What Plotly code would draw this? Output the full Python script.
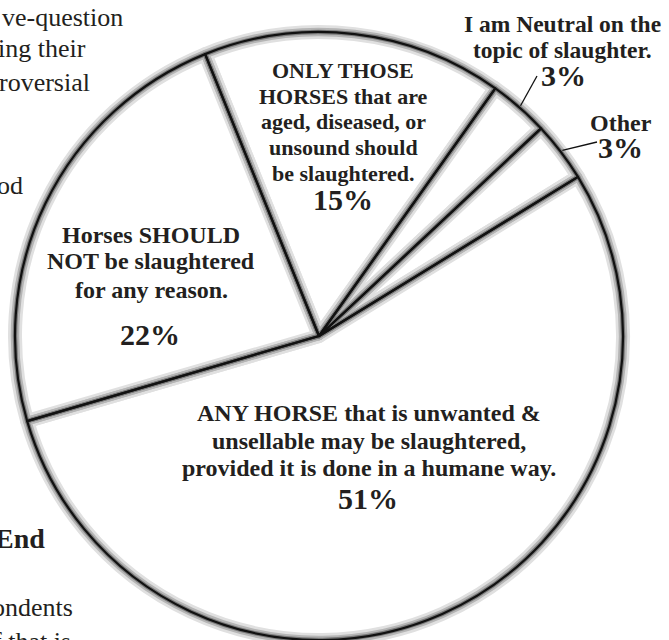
import math
import plotly.graph_objects as go

# ---------------- data ----------------
categories = [
    "ONLY THOSE HORSES that are aged, diseased, or unsound should be slaughtered.",
    "I am Neutral on the topic of slaughter.",
    "Other",
    "ANY HORSE that is unwanted & unsellable may be slaughtered, provided it is done in a humane way.",
    "Horses SHOULD NOT be slaughtered for any reason.",
]
values = [15, 3, 3, 51, 22]

label_lines = [
    ["ONLY THOSE", "HORSES that are", "aged, diseased, or", "unsound should", "be slaughtered."],
    ["I am Neutral on the", "topic of slaughter."],
    ["Other"],
    ["ANY HORSE that is unwanted &", "unsellable may be slaughtered,", "provided it is done in a humane way."],
    ["Horses SHOULD", "NOT be slaughtered", "for any reason."],
]

article_lines = ["ve-question", "ing their", "roversial", "od", "End", "ondents", "f that is"]

# ---------------- layout / style ----------------
W, H = 669, 640
DOM_X = [15 / W, 623 / W]
DOM_Y = [0.0, 608 / H]
ROT = -22
TXT = "#231f20"
SERIF = "Liberation Serif"

# label placement (pixel centres): per line y, shared x, font size
label_pos = [
    dict(x=343, ys=[70, 96.5, 121.5, 147, 173.5], size=22, px=343, py=199),
    dict(x=562, ys=[23.5, 49.5], size=23.5, px=563, py=75),
    dict(x=621, ys=[122.5], size=24, px=620, py=147.5),
    dict(x=369, ys=[412.5, 440.5, 467.5], size=24, px=368, py=498),
    dict(x=151, ys=[234.5, 260.5, 290], size=24, px=150, py=334),
]
leader_from = {1: (537, 76), 2: (597, 142)}

article_pos = [
    dict(xr=125, y=17, size=26, bold=False),
    dict(xr=88, y=49, size=26, bold=False),
    dict(xr=92, y=82, size=26, bold=False),
    dict(xr=25, y=185, size=26, bold=False),
    dict(xr=47, y=538, size=28, bold=True),
    dict(xr=75, y=607, size=26, bold=False),
    dict(xr=73, y=641, size=26, bold=False),
]


def px(x):
    return x / W


def py(y):
    return 1 - y / H


fig = go.Figure()

# layered pies: soft grey bevel under crisp black edges
layers = [
    dict(fill=["white"] * len(values), color="#e0e0e0", width=14),
    dict(fill=["rgba(0,0,0,0)"] * len(values), color="#b5b5b5", width=8.5),
    dict(fill=["rgba(0,0,0,0)"] * len(values), color="#7a7a7a", width=4.5),
    dict(fill=["rgba(0,0,0,0)"] * len(values), color="#111111", width=2.2),
]
for i, L in enumerate(layers):
    fig.add_trace(go.Pie(
        labels=categories,
        values=values,
        sort=False,
        direction="clockwise",
        rotation=ROT,
        textinfo="none",
        hoverinfo="label+percent" if i == 0 else "skip",
        marker=dict(colors=L["fill"], line=dict(color=L["color"], width=L["width"])),
        domain=dict(x=DOM_X, y=DOM_Y),
        showlegend=False,
    ))

annotations = []
for lines, pos, v in zip(label_lines, label_pos, values):
    for line, y in zip(lines, pos["ys"]):
        annotations.append(dict(
            x=px(pos["x"]), y=py(y), xref="paper", yref="paper",
            text=f"<b>{line}</b>", showarrow=False,
            xanchor="center", yanchor="middle",
            font=dict(family=SERIF, size=pos["size"], color=TXT),
        ))
    annotations.append(dict(
        x=px(pos["px"]), y=py(pos["py"]), xref="paper", yref="paper",
        text=f"<b>{v}%</b>", showarrow=False,
        xanchor="center", yanchor="middle",
        font=dict(family=SERIF, size=30, color=TXT),
    ))

for line, pos in zip(article_lines, article_pos):
    t = f"<b>{line}</b>" if pos["bold"] else line
    annotations.append(dict(
        x=px(pos["xr"]), y=py(pos["y"]), xref="paper", yref="paper",
        text=t, showarrow=False, xanchor="right", yanchor="middle",
        font=dict(family=SERIF, size=pos["size"], color=TXT),
    ))

# leader lines from small-slice labels to the arc at each slice's mid-angle
cx = W * (DOM_X[0] + DOM_X[1]) / 2
cy = H * (1 - (DOM_Y[0] + DOM_Y[1]) / 2)
r = min(W * (DOM_X[1] - DOM_X[0]), H * (DOM_Y[1] - DOM_Y[0])) / 2
total = sum(values)
cum = 0
shapes = []
for i, v in enumerate(values):
    mid = math.radians(ROT + 360 * (cum + v / 2) / total)
    cum += v
    if i in leader_from:
        ex, ey = cx + (r + 2) * math.sin(mid), cy - (r + 2) * math.cos(mid)
        sx, sy = leader_from[i]
        shapes.append(dict(type="line", xref="paper", yref="paper",
                           x0=px(sx), y0=py(sy), x1=px(ex), y1=py(ey),
                           line=dict(color="#111111", width=1.3)))

fig.update_layout(
    width=W, height=H,
    margin=dict(l=0, r=0, t=0, b=0),
    paper_bgcolor="white", plot_bgcolor="white",
    annotations=annotations, shapes=shapes,
    showlegend=False,
)

fig.write_html("out.html", config={"displayModeBar": False},
               post_script="document.body.style.margin='0';")
